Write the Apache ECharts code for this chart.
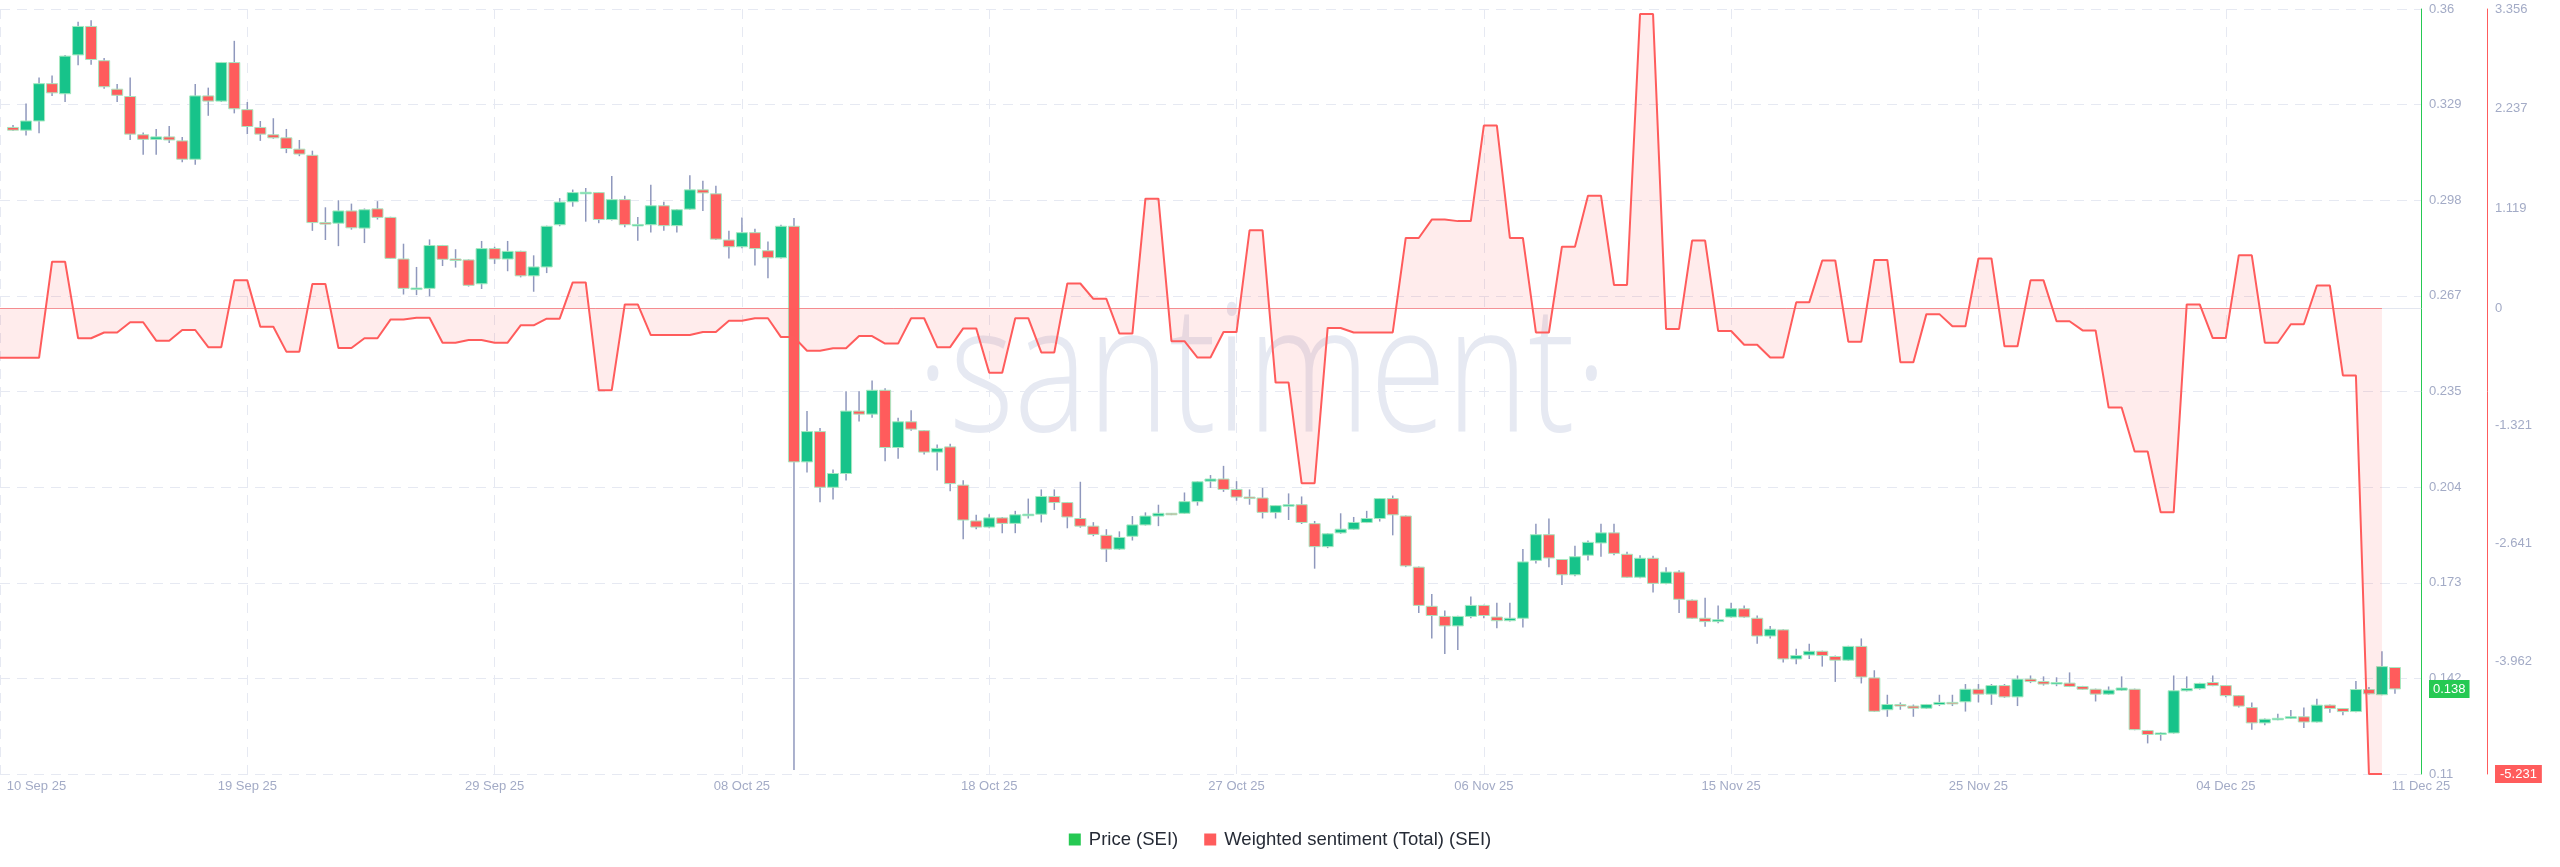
<!DOCTYPE html>
<html>
<head>
<meta charset="utf-8">
<script src="https://cdn.jsdelivr.net/npm/echarts@6/dist/echarts.min.js"></script>
<style>
html,body{margin:0;padding:0;background:#ffffff;}
#chart{width:2560px;height:867px;}
</style>
</head>
<body>
<div id="chart"></div>
<script>
// ---- x axis (12h bars) ----
var xTickLabels = ['10 Sep 25','19 Sep 25','29 Sep 25','08 Oct 25','18 Oct 25','27 Oct 25','06 Nov 25','15 Nov 25','25 Nov 25','04 Dec 25','11 Dec 25'];
var xTickIndex = [0,19,38,57,76,95,114,133,152,171,186];
var barCount = 187;

// ---- y axis ticks ----
var priceTickValues = [0.11,0.14125,0.1725,0.20375,0.235,0.26625,0.2975,0.32875,0.36];
var priceTickLabels = ['0.11','0.142','0.173','0.204','0.235','0.267','0.298','0.329','0.36'];
var sentimentTickValues = [3.356,2.237,1.119,0,-1.321,-2.641,-3.962,-5.231];
var sentimentTickLabels = ['3.356','2.237','1.119','0','-1.321','-2.641','-3.962','-5.231'];

// ---- Price (SEI), 12h candles ----
var priceOpen = [null,
.3213,.3204,.3234,.3356,.3323,.3450,.3543,.3431,.3338,.3314,
.3189,.3174,.3182,.3169,.3109,.3316,.3299,.3425,.3271,.3213,
.3189,.3179,.3142,.3122,.2902,.2900,.2940,.2884,.2947,.2919,
.2783,.2687,.2687,.2827,.2783,.2780,.2702,.2817,.2783,.2808,
.2728,.2757,.2895,.2970,.3000,.3000,.2912,.2977,.2895,.2895,
.2957,.2892,.2946,.3009,.2996,.2845,.2823,.2869,.2810,.2787,
.2890,.2120,.2219,.2037,.2082,.2286,.2276,.2354,.2167,.2251,
.2222,.2152,.2169,.2044,.1927,.1907,.1937,.1919,.1947,.1949,
.2007,.1987,.1935,.1910,.1880,.1835,.1877,.1914,.1943,.1952,
.1952,.1990,.2057,.2064,.2030,.2005,.2002,.1955,.1977,.1980,
.1918,.1843,.1888,.1900,.1922,.1935,.2000,.1943,.1776,.1648,
.1615,.1584,.1615,.1651,.1613,.1601,.1609,.1798,.1882,.1801,
.1751,.1815,.1855,.1888,.1818,.1743,.1805,.1723,.1760,.1668,
.1609,.1598,.1613,.1640,.1609,.1551,.1571,.1476,.1489,.1501,
.1484,.1472,.1517,.1414,.1310,.1327,.1322,.1315,.1327,.1334,
.1336,.1377,.1361,.1389,.1352,.1410,.1402,.1397,.1397,.1386,
.1377,.1361,.1374,.1377,.1242,.1229,.1234,.1372,.1379,.1399,
.1389,.1356,.1317,.1267,.1279,.1282,.1287,.1270,.1325,.1314,
.1304,.1376,.1359,.1448];
var priceClose = [null,
.3204,.3234,.3356,.3326,.3446,.3543,.3435,.3346,.3318,.3191,
.3174,.3182,.3172,.3109,.3316,.3299,.3425,.3274,.3216,.3191,
.3179,.3144,.3126,.2902,.2900,.2940,.2885,.2944,.2919,.2785,
.2687,.2688,.2827,.2782,.2781,.2697,.2817,.2783,.2808,.2728,
.2757,.2890,.2969,.3000,.3001,.2912,.2977,.2895,.2896,.2957,
.2892,.2944,.3009,.2999,.2848,.2823,.2869,.2817,.2787,.2890,
.2120,.2219,.2037,.2082,.2286,.2276,.2354,.2167,.2251,.2227,
.2152,.2164,.2049,.1930,.1907,.1937,.1919,.1947,.1949,.2007,
.1987,.1940,.1910,.1883,.1835,.1873,.1914,.1943,.1952,.1950,
.1990,.2055,.2064,.2030,.2005,.2003,.1955,.1977,.1980,.1922,
.1843,.1885,.1900,.1922,.1935,.2000,.1947,.1780,.1651,.1618,
.1584,.1615,.1651,.1618,.1601,.1609,.1793,.1882,.1806,.1751,
.1810,.1857,.1888,.1821,.1743,.1805,.1723,.1760,.1671,.1609,
.1598,.1604,.1640,.1613,.1551,.1573,.1476,.1487,.1501,.1487,
.1472,.1517,.1417,.1305,.1327,.1324,.1315,.1327,.1334,.1332,
.1377,.1361,.1389,.1352,.1410,.1402,.1394,.1399,.1386,.1377,
.1361,.1374,.1381,.1245,.1229,.1234,.1372,.1379,.1396,.1389,
.1356,.1322,.1267,.1279,.1282,.1287,.1270,.1325,.1314,.1304,
.1376,.1362,.1451,.1378];
var priceLow = [null,
.3201,.3187,.3194,.3316,.3296,.3416,.3418,.3339,.3296,.3172,
.3124,.3124,.3162,.3099,.3091,.3251,.3296,.3259,.3191,.3169,
.3176,.3129,.3119,.2875,.2845,.2825,.2879,.2835,.2912,.2783,
.2667,.2665,.2661,.2760,.2755,.2693,.2685,.2767,.2743,.2723,
.2676,.2737,.2890,.2954,.2905,.2900,.2909,.2887,.2843,.2870,
.2875,.2870,.2944,.2940,.2845,.2785,.2818,.2762,.2720,.2785,
.1113,.2085,.1988,.1997,.2059,.2252,.2264,.2122,.2130,.2222,
.2144,.2092,.2024,.1867,.1900,.1903,.1887,.1887,.1935,.1922,
.1963,.1903,.1905,.1877,.1793,.1832,.1863,.1912,.1910,.1946,
.1950,.1977,.2035,.2022,.1993,.1980,.1935,.1935,.1930,.1917,
.1771,.1838,.1885,.1898,.1920,.1925,.1880,.1776,.1626,.1543,
.1492,.1505,.1609,.1609,.1576,.1598,.1579,.1788,.1776,.1718,
.1746,.1798,.1810,.1815,.1741,.1740,.1693,.1720,.1626,.1607,
.1581,.1593,.1611,.1611,.1526,.1543,.1464,.1459,.1476,.1451,
.1401,.1470,.1396,.1303,.1287,.1310,.1287,.1313,.1322,.1322,
.1304,.1334,.1326,.1349,.1322,.1397,.1389,.1387,.1384,.1376,
.1337,.1359,.1372,.1243,.1200,.1209,.1232,.1370,.1376,.1387,
.1351,.1317,.1245,.1259,.1276,.1280,.1250,.1268,.1300,.1292,
.1302,.1360,.1357,.1362];
var priceHigh = [null,
.3221,.3291,.3376,.3383,.3450,.3558,.3563,.3440,.3355,.3376,
.3196,.3208,.3218,.3182,.3355,.3343,.3427,.3496,.3296,.3234,
.3243,.3208,.3172,.3137,.2952,.2975,.2964,.2948,.2972,.2921,
.2833,.2757,.2847,.2829,.2815,.2782,.2842,.2823,.2842,.2810,
.2795,.2892,.2982,.3010,.3015,.3002,.3054,.2990,.2920,.3026,
.2970,.2946,.3057,.3039,.3022,.2875,.2919,.2882,.2840,.2895,
.2917,.2286,.2231,.2095,.2351,.2351,.2386,.2361,.2264,.2289,
.2224,.2177,.2179,.2060,.1947,.1949,.1940,.1960,.2000,.2030,
.2030,.1989,.2055,.1923,.1900,.1893,.1943,.1955,.1980,.1953,
.2020,.2057,.2077,.2107,.2057,.2030,.2035,.1978,.2017,.2007,
.1927,.1887,.1952,.1940,.1960,.2002,.2010,.1945,.1778,.1688,
.1634,.1617,.1680,.1653,.1660,.1660,.1835,.1918,.1935,.1803,
.1846,.1863,.1918,.1918,.1826,.1815,.1813,.1776,.1766,.1670,
.1676,.1651,.1660,.1651,.1618,.1584,.1573,.1509,.1526,.1503,
.1487,.1519,.1543,.1439,.1359,.1334,.1327,.1329,.1359,.1359,
.1394,.1394,.1394,.1394,.1422,.1422,.1419,.1416,.1432,.1388,
.1379,.1386,.1419,.1379,.1244,.1236,.1422,.1419,.1398,.1422,
.1391,.1358,.1334,.1281,.1297,.1309,.1317,.1346,.1327,.1316,
.1404,.1384,.1501,.1450];

// ---- Weighted sentiment (Total) (SEI), per 12h bar ----
var sentiment = [
-0.56,-0.56,-0.56,-0.56,0.52,0.52,-0.34,-0.34,-0.275,-0.275,
-0.16,-0.16,-0.367,-0.367,-0.247,-0.247,-0.44,-0.44,0.31,0.31,
-0.21,-0.21,-0.49,-0.49,0.27,0.27,-0.45,-0.45,-0.34,-0.34,
-0.13,-0.13,-0.11,-0.11,-0.39,-0.39,-0.36,-0.36,-0.39,-0.39,
-0.195,-0.195,-0.12,-0.12,0.287,0.287,-0.923,-0.923,0.04,0.04,
-0.304,-0.304,-0.304,-0.304,-0.27,-0.27,-0.143,-0.143,-0.115,-0.115,
-0.327,-0.327,-0.48,-0.48,-0.453,-0.453,-0.315,-0.315,-0.40,-0.40,
-0.115,-0.115,-0.44,-0.44,-0.229,-0.229,-0.728,-0.728,-0.115,-0.115,
-0.499,-0.499,0.275,0.275,0.103,0.103,-0.287,-0.287,1.227,1.227,
-0.373,-0.373,-0.556,-0.556,-0.27,-0.27,0.872,0.872,-0.837,-0.837,
-1.967,-1.967,-0.224,-0.224,-0.275,-0.275,-0.275,-0.275,0.786,0.786,
0.992,0.992,0.975,0.975,2.047,2.047,0.786,0.786,-0.275,-0.275,
0.688,0.688,1.261,1.261,0.258,0.258,3.30,3.30,-0.235,-0.235,
0.757,0.757,-0.258,-0.258,-0.413,-0.413,-0.556,-0.556,0.063,0.063,
0.533,0.533,-0.378,-0.378,0.539,0.539,-0.608,-0.608,-0.069,-0.069,
-0.206,-0.206,0.556,0.556,-0.43,-0.43,0.31,0.31,-0.149,-0.149,
-0.252,-0.252,-1.118,-1.118,-1.611,-1.611,-2.294,-2.294,0.04,0.04,
-0.338,-0.338,0.591,0.591,-0.39,-0.39,-0.183,-0.183,0.252,0.252,
-0.757,-0.757,-5.231,-5.231];

// ---- build ----
var categories = [];
for (var i = 0; i < barCount; i++) {
  categories.push(new Date(Date.UTC(2025, 8, 10) + i * 43200000).toISOString().slice(0, 16));
}
var candleData = [];
for (var j = 0; j < priceOpen.length; j++) {
  if (priceOpen[j] == null) continue;
  candleData.push([j, priceOpen[j], priceClose[j], priceLow[j], priceHigh[j]]);
}
var lastClose = priceClose[priceClose.length - 1];
var lastSent = sentiment[sentiment.length - 1];

var GREEN = '#17c38a', RED = '#ff5c5c', WICK = '#8f98bd', BORDER = '#a6e8c0';
var LABEL = '#a3abc6', FONT = '"Liberation Sans", Arial, sans-serif';

function near(a, b) { return Math.abs(a - b) < 1e-7; }

var chart = echarts.init(document.getElementById('chart'), null, {renderer: 'canvas'});
chart.setOption({
  animation: false,
  backgroundColor: '#ffffff',
  textStyle: {fontFamily: FONT},
  grid: {left: 0, right: 139, top: 9, bottom: 93, containLabel: false},
  graphic: [{
    type: 'text', x: 1262, y: 380, scaleX: 0.78, originX: 0, originY: 0, z: 0, silent: true,
    style: {
      text: '\u00B7santiment\u00B7', x: 0, y: 0,
      textAlign: 'center', textVerticalAlign: 'middle', align: 'center', verticalAlign: 'middle',
      font: '300 178px "Open Sans", sans-serif', fill: '#e6e9f2'
    }
  }],
  legend: {
    top: 825, left: 'center', itemWidth: 12, itemHeight: 12, itemGap: 26,
    textStyle: {fontSize: 18.5, color: '#262b36', fontFamily: FONT, padding: [0, 0, 0, 3]},
    data: [
      {name: 'Price (SEI)', icon: 'rect', itemStyle: {color: '#26c953'}},
      {name: 'Weighted sentiment (Total) (SEI)', icon: 'rect', itemStyle: {color: RED}}
    ]
  },
  xAxis: {
    type: 'category', data: categories, boundaryGap: false,
    axisLine: {show: true, lineStyle: {color: '#e3e6ef', width: 1}},
    axisTick: {show: false},
    axisLabel: {
      color: LABEL, fontSize: 13, margin: 6, fontFamily: FONT,
      interval: function (idx) { return xTickIndex.indexOf(idx) >= 0; },
      formatter: function (v, idx) {
        var k = xTickIndex.indexOf(idx);
        if (k < 0) return '';
        if (idx === 0) return '{first|' + xTickLabels[0] + '}';
        return xTickLabels[k];
      },
      rich: {first: {color: LABEL, fontSize: 13, fontFamily: FONT, padding: [0, 0, 0, 73]}}
    },
    splitLine: {
      show: true,
      interval: function (idx) { return xTickIndex.indexOf(idx) >= 0 && idx !== barCount - 1; },
      lineStyle: {color: '#e6e9f2', type: [10, 8], width: 1}
    }
  },
  yAxis: [{
    type: 'value', position: 'right', min: 0.11, max: 0.36, scale: true,
    axisLine: {show: true, lineStyle: {color: '#26c953', width: 1}},
    axisTick: {show: false, customValues: priceTickValues},
    axisLabel: {
      customValues: priceTickValues.concat([lastClose]),
      color: LABEL, fontSize: 13, margin: 8, fontFamily: FONT,
      formatter: function (v) {
        if (near(v, lastClose)) return '{cur|' + lastClose.toFixed(3) + '}';
        for (var q = 0; q < priceTickValues.length; q++) if (near(v, priceTickValues[q])) return priceTickLabels[q];
        return '';
      },
      rich: {cur: {backgroundColor: '#26c953', color: '#ffffff', fontSize: 13, fontFamily: FONT, padding: [3, 4, 2, 4]}}
    },
    splitLine: {show: true, lineStyle: {color: '#e6e9f2', type: [10, 7], width: 1}}
  }, {
    type: 'value', position: 'right', offset: 66, min: -5.231, max: 3.356,
    axisLine: {show: true, lineStyle: {color: RED, width: 1}},
    axisTick: {show: false, customValues: sentimentTickValues},
    axisLabel: {
      customValues: sentimentTickValues,
      color: LABEL, fontSize: 13, margin: 8, fontFamily: FONT,
      formatter: function (v) {
        for (var q = 0; q < sentimentTickValues.length; q++) {
          if (near(v, sentimentTickValues[q])) {
            if (near(v, lastSent)) return '{cur|' + sentimentTickLabels[q] + '}';
            return sentimentTickLabels[q];
          }
        }
        return '';
      },
      rich: {cur: {backgroundColor: RED, color: '#ffffff', fontSize: 13, fontFamily: FONT, padding: [3, 5, 2, 5]}}
    },
    splitLine: {show: false}
  }],
  series: [{
    name: 'Price (SEI)', type: 'custom', xAxisIndex: 0, yAxisIndex: 0, z: 2,
    itemStyle: {color: '#26c953'},
    encode: {x: 0, y: [1, 2, 3, 4]},
    data: candleData,
    renderItem: function (params, api) {
      var x = api.value(0), o = api.value(1), c = api.value(2), l = api.value(3), h = api.value(4);
      var pO = api.coord([x, o]), pC = api.coord([x, c]), pL = api.coord([x, l]), pH = api.coord([x, h]);
      var w = api.size([1, 0])[0] * 0.85;
      var top = Math.min(pO[1], pC[1]);
      var hh = Math.max(1.5, Math.abs(pO[1] - pC[1]));
      return {
        type: 'group',
        children: [
          {type: 'line', shape: {x1: pH[0], y1: pH[1], x2: pL[0], y2: pL[1]}, style: {stroke: WICK, lineWidth: 1.5}},
          {type: 'rect', shape: {x: pO[0] - w / 2, y: top, width: w, height: hh},
           style: {fill: c >= o ? GREEN : RED, stroke: BORDER, lineWidth: 1}}
        ]
      };
    }
  }, {
    name: 'Weighted sentiment (Total) (SEI)', type: 'line', xAxisIndex: 0, yAxisIndex: 1, z: 3,
    data: sentiment, symbol: 'none', showSymbol: false, clip: false,
    itemStyle: {color: RED},
    lineStyle: {color: RED, width: 2},
    areaStyle: {color: 'rgba(255,92,92,0.16)'},
    markLine: {
      silent: true, symbol: 'none', label: {show: false},
      lineStyle: {color: 'rgba(255,92,92,0.6)', width: 1, type: 'solid'},
      data: [[{coord: [categories[0], 0]}, {coord: [categories[sentiment.length - 1], 0]}]]
    }
  }]
});
</script>
</body>
</html>
